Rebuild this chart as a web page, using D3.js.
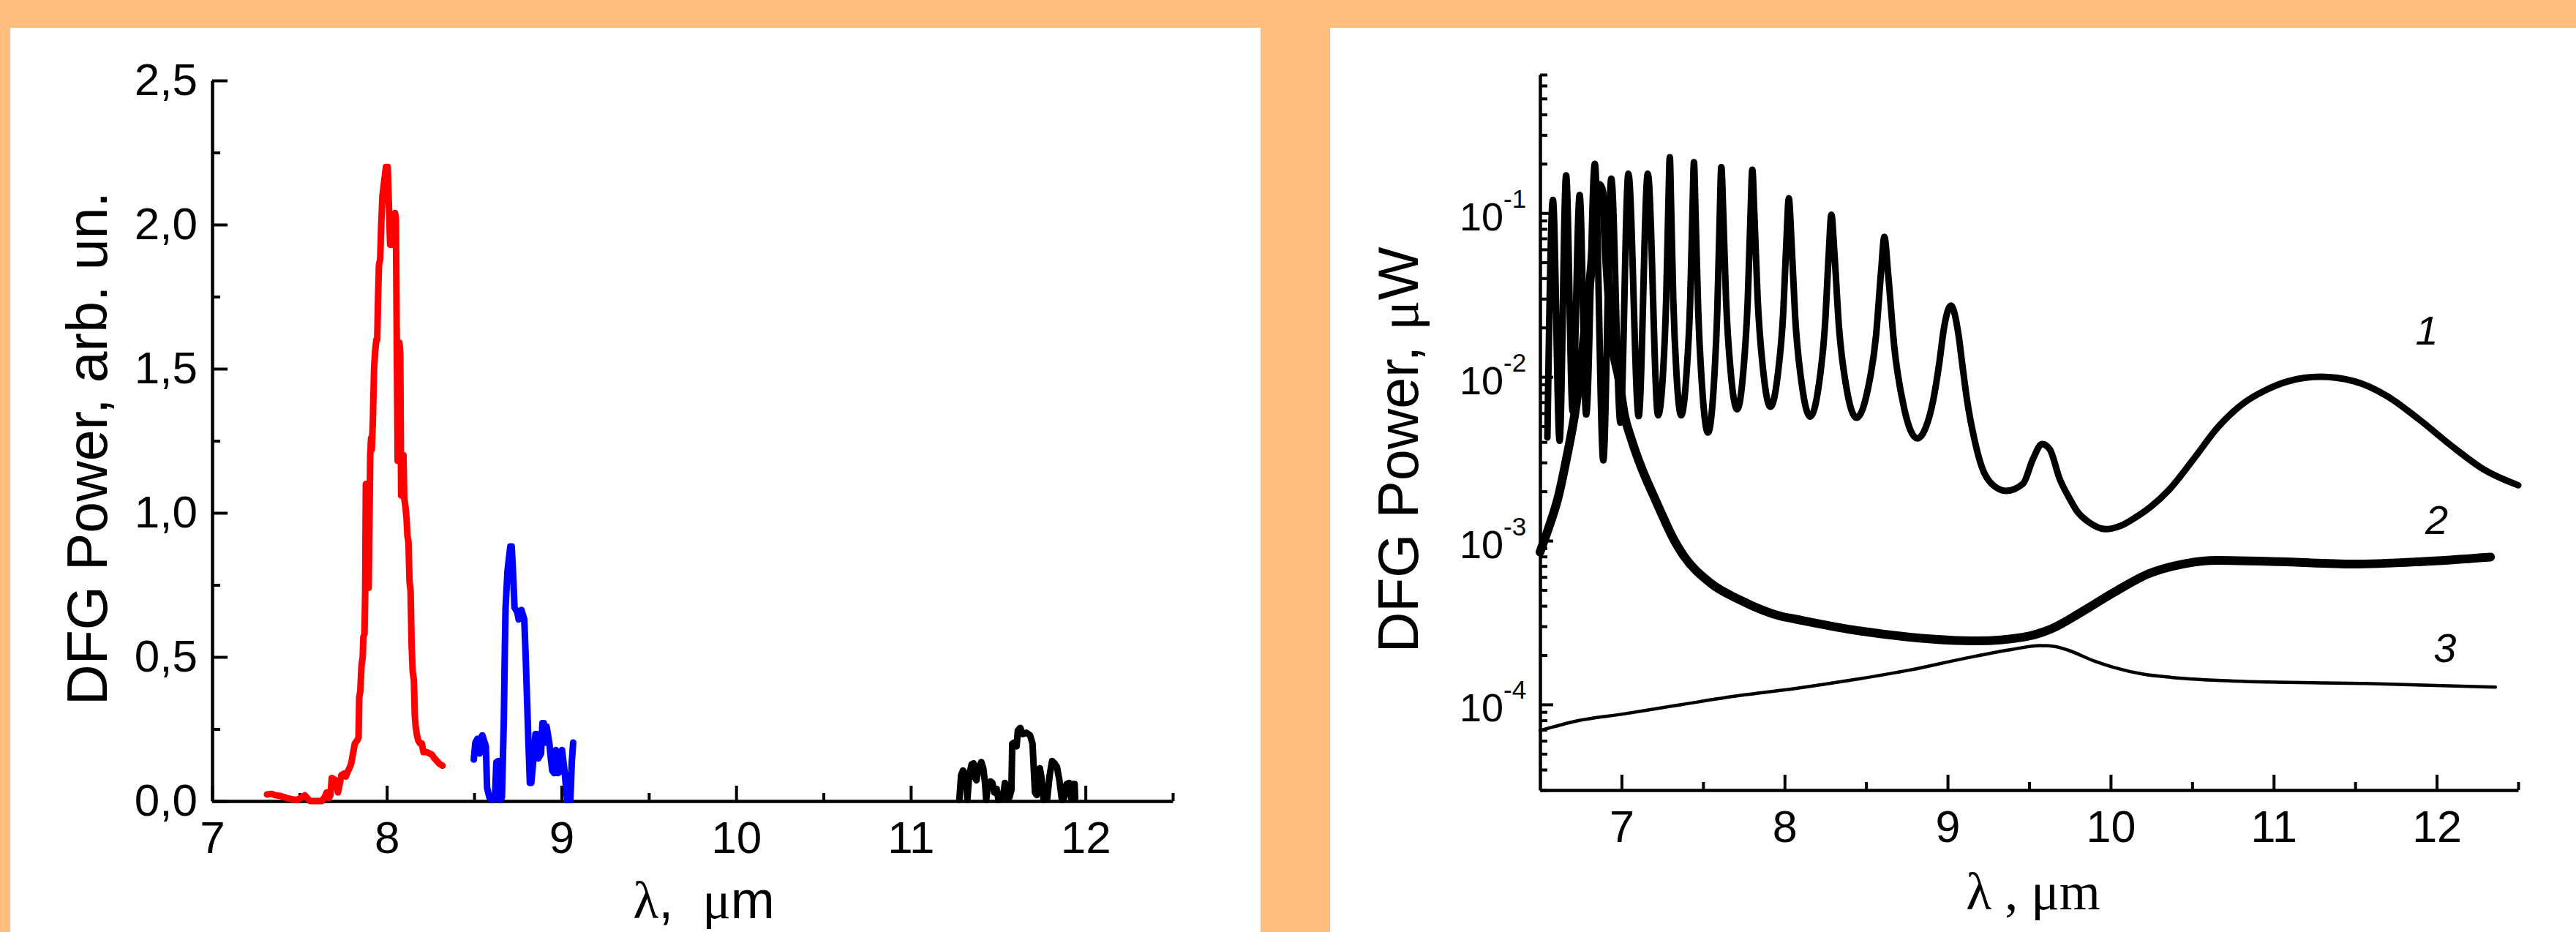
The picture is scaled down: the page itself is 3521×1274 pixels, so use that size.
<!DOCTYPE html>
<html>
<head>
<meta charset="utf-8">
<script src="https://cdn.jsdelivr.net/npm/d3@7"></script>
<style>
  body { margin: 0; background: #ffbe7e; }
  svg { display: block; }
  text { font-family: 'Liberation Sans', Arial, sans-serif; fill: #000; }
  .serif { font-family: 'Liberation Serif', 'Times New Roman', serif; }
</style>
</head>
<body>
<div id="chart"></div>
<script>
// ---------- data: left panel (measured spectra, arb. un.) ----------
const redSpectrum = [[7.314,0.023],[7.34,0.025],[7.363,0.02],[7.39,0.018],[7.405,0.015],[7.43,0.01],[7.447,0.008],[7.47,0.005],[7.489,0.004],[7.51,0.012],[7.531,0.02],[7.545,0.01],[7.56,0.0],[7.6,0.0],[7.628,0.0],[7.645,0.015],[7.656,0.03],[7.668,0.01],[7.677,0.02],[7.685,0.08],[7.7,0.075],[7.712,0.06],[7.72,0.03],[7.726,0.045],[7.74,0.09],[7.754,0.095],[7.765,0.085],[7.775,0.1],[7.79,0.12],[7.796,0.13],[7.805,0.16],[7.817,0.2],[7.83,0.21],[7.838,0.22],[7.842,0.36],[7.848,0.38],[7.855,0.47],[7.862,0.5],[7.866,0.57],[7.872,0.58],[7.876,0.72],[7.88,1.1],[7.886,1.08],[7.893,0.75],[7.896,0.74],[7.905,1.2],[7.91,1.26],[7.914,1.22],[7.92,1.32],[7.927,1.5],[7.933,1.56],[7.94,1.6],[7.945,1.6],[7.95,1.75],[7.955,1.86],[7.962,1.88],[7.968,2.0],[7.975,2.1],[7.985,2.15],[7.995,2.2],[8.005,2.2],[8.01,2.1],[8.019,1.93],[8.026,1.95],[8.033,1.93],[8.04,2.03],[8.047,2.04],[8.052,2.02],[8.058,1.5],[8.062,1.18],[8.066,1.2],[8.072,1.59],[8.077,1.55],[8.082,1.06],[8.088,1.18],[8.095,1.2],[8.1,1.05],[8.107,1.02],[8.113,0.98],[8.118,0.92],[8.124,0.9],[8.13,0.76],[8.136,0.73],[8.142,0.54],[8.148,0.45],[8.155,0.42],[8.16,0.3],[8.165,0.26],[8.172,0.23],[8.18,0.21],[8.19,0.2],[8.2,0.2],[8.21,0.17],[8.228,0.17],[8.245,0.165],[8.26,0.16],[8.27,0.15],[8.285,0.14],[8.3,0.13],[8.319,0.123]]
const blueSpectrum = [[8.498,0.144],[8.507,0.203],[8.519,0.216],[8.531,0.165],[8.539,0.22],[8.547,0.228],[8.558,0.207],[8.567,0.19],[8.574,0.046],[8.587,0.013],[8.603,0.004],[8.619,0.008],[8.627,0.135],[8.638,0.139],[8.647,0.004],[8.659,0.013],[8.67,0.283],[8.676,0.537],[8.68,0.672],[8.691,0.799],[8.699,0.841],[8.707,0.883],[8.715,0.883],[8.723,0.79],[8.731,0.672],[8.747,0.655],[8.755,0.63],[8.771,0.663],[8.787,0.63],[8.795,0.503],[8.811,0.199],[8.819,0.063],[8.827,0.063],[8.84,0.148],[8.851,0.232],[8.859,0.232],[8.867,0.148],[8.883,0.165],[8.891,0.27],[8.899,0.27],[8.907,0.203],[8.915,0.258],[8.931,0.199],[8.939,0.148],[8.947,0.106],[8.958,0.097],[8.968,0.177],[8.979,0.097],[8.99,0.101],[9.003,0.177],[9.019,0.097],[9.032,0.004],[9.051,0.004],[9.059,0.135],[9.067,0.203]]
const blackSpectrum = [[11.278,0.004],[11.288,0.089],[11.299,0.106],[11.316,0.089],[11.324,0.004],[11.334,0.089],[11.348,0.127],[11.359,0.131],[11.369,0.08],[11.376,0.072],[11.387,0.114],[11.404,0.135],[11.415,0.114],[11.425,0.063],[11.432,0.004],[11.442,0.063],[11.456,0.068],[11.467,0.063],[11.478,0.03],[11.492,0.042],[11.502,0.004],[11.516,0.008],[11.53,0.021],[11.539,0.063],[11.551,0.013],[11.565,0.013],[11.576,0.038],[11.581,0.199],[11.593,0.203],[11.606,0.19],[11.613,0.245],[11.627,0.254],[11.641,0.232],[11.662,0.237],[11.683,0.228],[11.697,0.199],[11.711,0.03],[11.721,0.021],[11.732,0.089],[11.739,0.114],[11.749,0.08],[11.76,0.004],[11.781,0.008],[11.795,0.089],[11.809,0.139],[11.823,0.131],[11.837,0.118],[11.851,0.072],[11.865,0.004],[11.879,0.013],[11.892,0.059],[11.907,0.063],[11.92,0.008],[11.927,0.059],[11.938,0.059],[11.941,0.008]]

// ---------- data: right panel (calculated, [lambda, log10 P in uW]) ----------
const curve1 = [[6.545,-2.37],[6.579,-0.92],[6.62,-2.39],[6.66,-0.77],[6.7,-2.21],[6.743,-0.89],[6.783,-2.23],[6.836,-0.7],[6.888,-2.51],[6.937,-0.79],[6.993,-2.28],[7.042,-0.76],[7.105,-2.24],[7.161,-0.76],[7.224,-2.235],
  [7.253,-2.0],[7.274,-1.52],[7.287,-0.96],[7.296,-0.66],[7.304,-0.96],[7.317,-1.52],[7.338,-2.0],[7.366,-2.235],
  [7.397,-2.0],[7.421,-1.535],[7.435,-0.99],[7.444,-0.69],[7.454,-1.01],[7.47,-1.59],[7.496,-2.09],[7.53,-2.34],
  [7.563,-2.095],[7.587,-1.606],[7.602,-1.036],[7.612,-0.72],[7.624,-1.008],[7.641,-1.528],[7.67,-1.975],[7.709,-2.198],
  [7.746,-1.977],[7.774,-1.534],[7.791,-1.018],[7.802,-0.735],[7.815,-1.015],[7.835,-1.526],[7.869,-1.964],[7.913,-2.183],
  [7.958,-1.99],[7.992,-1.604],[8.012,-1.154],[8.026,-0.91],[8.042,-1.166],[8.065,-1.637],[8.105,-2.041],[8.157,-2.243],
  [8.209,-2.057],[8.248,-1.684],[8.271,-1.249],[8.287,-1.01],[8.306,-1.25],[8.333,-1.688],[8.379,-2.063],[8.441,-2.25],
  [8.509,-2.083],[8.561,-1.748],[8.592,-1.357],[8.612,-1.145],[8.636,-1.382],[8.673,-1.817],[8.733,-2.19],[8.814,-2.376],
  [8.866,-2.309],[8.911,-2.146],[8.948,-1.923],[8.978,-1.7],[9.02,-1.565],[9.067,-1.744],[9.09,-1.923],[9.12,-2.146],[9.165,-2.384],[9.209,-2.548],[9.269,-2.652],[9.359,-2.696],
  [9.463,-2.652],[9.523,-2.503],[9.579,-2.41],[9.627,-2.443],[9.687,-2.622],[9.747,-2.741],[9.791,-2.816],[9.87,-2.89],[9.969,-2.93],[10.06,-2.91],[10.15,-2.86],[10.25,-2.79],[10.358,-2.69],[10.508,-2.503],[10.657,-2.309],[10.806,-2.168],[10.956,-2.079],[11.09,-2.027],[11.286,-2.0],[11.493,-2.027],[11.695,-2.117],[11.896,-2.263],[12.097,-2.426],[12.298,-2.571],[12.5,-2.662]]
const curve2 = [[6.5,-3.07],[6.55,-2.93],[6.61,-2.74],[6.66,-2.51],[6.72,-2.18],[6.776,-1.7],[6.821,-1.25],[6.843,-0.92],[6.863,-0.83],[6.888,-0.92],[6.91,-1.32],[6.94,-1.76],[6.985,-2.02],[7.017,-2.23],[7.06,-2.38],[7.105,-2.51],[7.149,-2.62],[7.194,-2.72],[7.243,-2.83],[7.319,-2.99],[7.373,-3.08],[7.547,-3.26],[7.722,-3.36],[7.972,-3.46],[8.071,-3.48],[8.419,-3.545],[8.768,-3.589],[9.187,-3.612],[9.466,-3.589],[9.64,-3.537],[9.815,-3.44],[10.024,-3.314],[10.233,-3.202],[10.442,-3.143],[10.652,-3.121],[11.036,-3.128],[11.489,-3.143],[11.907,-3.128],[12.33,-3.1]]
const curve3 = [[6.5,-4.16],[6.73,-4.1],[7.0,-4.06],[7.373,-4.0],[7.722,-3.946],[8.071,-3.902],[8.419,-3.85],[8.768,-3.79],[9.117,-3.716],[9.396,-3.664],[9.57,-3.641],[9.65,-3.645],[9.745,-3.671],[9.9,-3.735],[10.024,-3.775],[10.2,-3.815],[10.373,-3.835],[10.757,-3.857],[11.559,-3.872],[12.36,-3.894]]

// tick values / labels
const leftXTicks = [7, 8, 9, 10, 11, 12]
const leftXMinor = [7.5, 8.5, 9.5, 10.5, 11.5, 12.5]
const leftYTicks = [0, 0.5, 1.0, 1.5, 2.0, 2.5]
const leftYMinor = [0.25, 0.75, 1.25, 1.75, 2.25]
const rightXTicks = [7, 8, 9, 10, 11, 12]
const rightXMinor = [7.5, 8.5, 9.5, 10.5, 11.5, 12.5]
const rightYTicks = [1e-4, 1e-3, 1e-2, 1e-1]
const rightYExp = ['-4', '-3', '-2', '-1']
const rightYMinor = [3e-5,4e-5,5e-5,6e-5,7e-5,8e-5,9e-5,2e-4,3e-4,4e-4,5e-4,6e-4,7e-4,8e-4,9e-4,2e-3,3e-3,4e-3,5e-3,6e-3,7e-3,8e-3,9e-3,2e-2,3e-2,4e-2,5e-2,6e-2,7e-2,8e-2,9e-2,0.2,0.3,0.4,0.5,0.6,0.7]
const curveLabels = [{ t: '1', x: 11.87, p: 0.0158 }, { t: '2', x: 11.93, p: 0.0011 }, { t: '3', x: 11.98, p: 1.82e-4 }]

// canvas
const svgWidth = 3521
const svgHeight = 1274
const svg = d3.select('#chart').append('svg').attr('width', svgWidth).attr('height', svgHeight)

// white panels
svg.append('rect').attr('x', 14).attr('y', 38).attr('width', 1709).attr('height', 1236).attr('fill', '#fff')
svg.append('rect').attr('x', 1818).attr('y', 38).attr('width', 1703).attr('height', 1236).attr('fill', '#fff')

// scales
const xL = d3.scaleLinear().domain([7, 12.5]).range([290, 1603])
const yL = d3.scaleLinear().domain([0, 2.5]).range([1095, 110])
const xR = d3.scaleLinear().domain([6.5, 12.5]).range([2105, 3442])
const yR = d3.scaleLog().domain([3e-5, 0.7]).range([1080, 102])

function styleAxis(g, keepDomain) {
  g.selectAll('line').attr('stroke', '#000').attr('stroke-width', 4)
  g.select('.domain').attr('stroke', '#000').attr('stroke-width', 4.5)
  if (!keepDomain) g.select('.domain').remove()
  g.attr('font-family', null).attr('font-size', null)
}
const comma = d => d.toFixed(1).replace('.', ',')

// ---------- left panel ----------
const gxL = svg.append('g').attr('transform', 'translate(0,1095)')
  .call(d3.axisBottom(xL).tickValues(leftXTicks).tickSize(-21).tickSizeOuter(0).tickPadding(27).tickFormat(d3.format('d')))
styleAxis(gxL, true)
gxL.selectAll('text').attr('font-size', 62)
const gxLm = svg.append('g').attr('transform', 'translate(0,1095)')
  .call(d3.axisBottom(xL).tickValues(leftXMinor).tickSize(-11).tickFormat(''))
styleAxis(gxLm, false)

const gyL = svg.append('g').attr('transform', 'translate(290,0)')
  .call(d3.axisLeft(yL).tickValues(leftYTicks).tickSize(-21).tickSizeOuter(0).tickPadding(20).tickFormat(comma))
styleAxis(gyL, true)
gyL.selectAll('text').attr('font-size', 62)
const gyLm = svg.append('g').attr('transform', 'translate(290,0)')
  .call(d3.axisLeft(yL).tickValues(leftYMinor).tickSize(-11).tickFormat(''))
styleAxis(gyLm, false)

const lineL = d3.line().x(d => xL(d[0])).y(d => yL(d[1]))
const spectra = [[redSpectrum, '#ff0000'], [blueSpectrum, '#0000ff'], [blackSpectrum, '#000000']]
svg.selectAll('path.spec').data(spectra).enter().append('path').attr('class', 'spec')
  .attr('d', d => lineL(d[0])).attr('fill', 'none').attr('stroke', d => d[1])
  .attr('stroke-width', 9).attr('stroke-linejoin', 'round').attr('stroke-linecap', 'round')

svg.append('text').attr('transform', 'translate(146,613) rotate(-90)').attr('text-anchor', 'middle')
  .attr('font-size', 77).text('DFG Power, arb. un.')
const tL = svg.append('text').attr('x', 962).attr('y', 1255).attr('text-anchor', 'middle').attr('font-size', 72)
tL.append('tspan').attr('class', 'serif').text('\u03bb')
tL.append('tspan').text(',\u00a0\u00a0')
tL.append('tspan').attr('class', 'serif').text('\u03bc')
tL.append('tspan').text('m')

// ---------- right panel ----------
const gxR = svg.append('g').attr('transform', 'translate(0,1080)')
  .call(d3.axisBottom(xR).tickValues(rightXTicks).tickSize(-21).tickSizeOuter(0).tickPadding(28).tickFormat(d3.format('d')))
styleAxis(gxR, true)
gxR.selectAll('text').attr('font-size', 61)
const gxRm = svg.append('g').attr('transform', 'translate(0,1080)')
  .call(d3.axisBottom(xR).tickValues(rightXMinor).tickSize(-11).tickFormat(''))
styleAxis(gxRm, false)

const gyR = svg.append('g').attr('transform', 'translate(2105,0)')
  .call(d3.axisLeft(yR).tickValues(rightYTicks).tickSize(-18).tickSizeOuter(0).tickFormat(''))
styleAxis(gyR, true)
gyR.selectAll('.tick text').each(function (d, i) {
  const t = d3.select(this).attr('x', -110).attr('y', 23).attr('dy', null).attr('text-anchor', 'start')
  t.append('tspan').attr('font-size', 54).text('10')
  t.append('tspan').attr('font-size', 35).attr('dy', -31).text(rightYExp[i])
})
const gyRm = svg.append('g').attr('transform', 'translate(2105,0)')
  .call(d3.axisLeft(yR).tickValues(rightYMinor).tickSize(-10).tickFormat(''))
styleAxis(gyRm, false)

const lineR = d3.line().curve(d3.curveMonotoneX).x(d => xR(d[0])).y(d => yR(Math.pow(10, d[1])))
const curves = [[curve3, 4.5], [curve2, 12], [curve1, 9]]
svg.selectAll('path.calc').data(curves).enter().append('path').attr('class', 'calc')
  .attr('d', d => lineR(d[0])).attr('fill', 'none').attr('stroke', '#000')
  .attr('stroke-width', d => d[1]).attr('stroke-linejoin', 'round').attr('stroke-linecap', 'round')

svg.selectAll('text.clab').data(curveLabels).enter().append('text').attr('class', 'clab')
  .attr('x', d => xR(d.x)).attr('y', d => yR(d.p)).attr('font-size', 56).attr('font-style', 'italic').text(d => d.t)

svg.append('text').attr('transform', 'translate(1938,615) rotate(-90)').attr('text-anchor', 'middle')
  .attr('font-size', 77).call(t => {
    t.append('tspan').text('DFG Power,\u00a0')
    t.append('tspan').attr('class', 'serif').text('\u03bc')
    t.append('tspan').text('W')
  })
svg.append('text').attr('class', 'serif').attr('x', 2779).attr('y', 1243).attr('text-anchor', 'middle')
  .attr('font-size', 72).text('\u03bb , \u03bcm')
</script>
</body>
</html>
